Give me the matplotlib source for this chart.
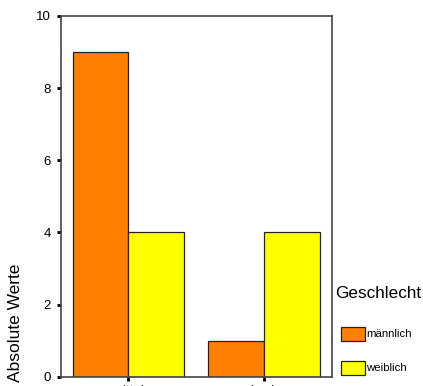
import matplotlib
matplotlib.use("Agg")
import matplotlib.pyplot as plt
from matplotlib.patches import Rectangle
import numpy as np

plt.rcParams['font.family'] = ['Liberation Sans', 'DejaVu Sans']

categories = ["mittel", "hoch"]
groups = ["männlich", "weiblich"]
values_m = [9, 1]
values_w = [4, 4]
colors = ["#FF8000", "#FFFF00"]
yticks = [0, 2, 4, 6, 8, 10]

W, H = 423, 386
fig = plt.figure(figsize=(W / 100, H / 100), dpi=100)
ax = fig.add_axes([60.7 / W, 1 - 376.7 / H, (331.7 - 60.7) / W, (376.7 - 16) / H])

x = np.arange(len(categories))
bw = 0.41
ax.bar(x - bw / 2, values_m, width=bw, color=colors[0], edgecolor="#222222", linewidth=0.9)
ax.bar(x + bw / 2, values_w, width=bw, color=colors[1], edgecolor="#222222", linewidth=0.9)

ax.set_xlim(-0.5, 1.5)
ax.set_ylim(0, 10)
ax.set_yticks(yticks)
ax.set_xticks(x)
ax.set_xticklabels(categories, fontsize=11)
for s in ax.spines.values():
    s.set_color("#444444")
    s.set_linewidth(1.2)
ax.tick_params(axis="both", direction="out", length=3, width=2, color="black",
               labelsize=9.5, pad=4)
ax.tick_params(axis="x", pad=3)
ax.set_ylabel("Absolute Werte", fontsize=12.5)
ax.yaxis.set_label_coords(-(60.7 - 23) / (331.7 - 60.7), (376.7 - 323) / (376.7 - 16))

# legend (drawn manually in figure pixels)
def fx(px):
    return px / W

def fy(py):
    return 1 - py / H

fig.text(fx(335), fy(294), "Geschlecht", fontsize=12.3, ha="left", va="center")
for i, (g, c) in enumerate(zip(groups, colors)):
    top = 327 + i * 34
    fig.patches.append(Rectangle((fx(341), fy(top + 14)), 24 / W, 14 / H,
                                 transform=fig.transFigure, facecolor=c,
                                 edgecolor="#222222", linewidth=0.9))
    fig.text(fx(366), fy(top + 7), g, fontsize=8.2, ha="left", va="center")

fig.savefig("out.png", dpi=100)
